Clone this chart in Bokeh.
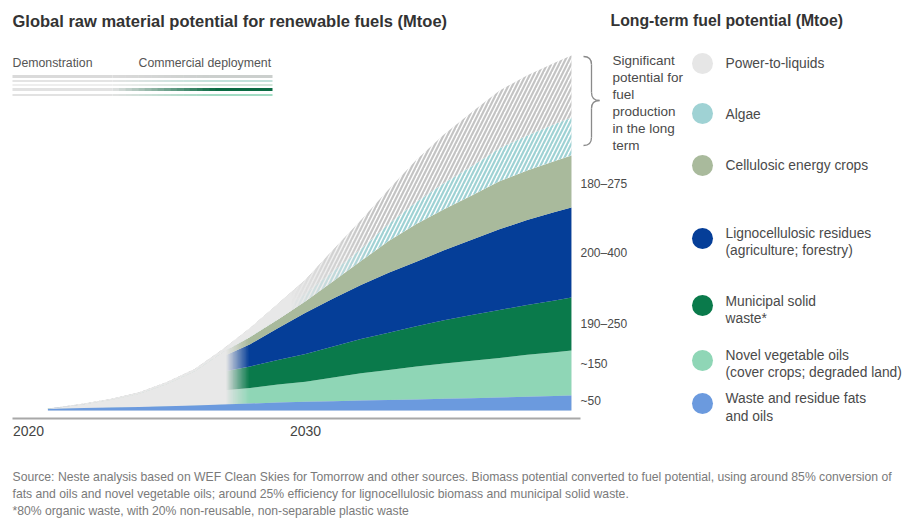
import numpy as np
from bokeh.plotting import figure
from bokeh.models import Range1d, FixedTicker, Label
from bokeh.layouts import column
from bokeh.embed import file_html
from bokeh.resources import INLINE

# ---------------- data (Mtoe) ----------------
years = [2020.7, 2021, 2022, 2023, 2024, 2025, 2026, 2027, 2028, 2029, 2030,
         2031, 2032, 2033, 2034, 2035, 2036, 2037, 2038, 2039, 2039.6]
fats_oils = [5, 6, 8, 10, 12, 14, 17, 20, 23, 27, 29, 31, 33, 35, 37, 39, 41, 43, 46, 48, 50]
novel_veg_oils = [1, 1, 4, 7, 11, 17, 30, 47, 52, 60, 67, 79, 91, 100, 110, 118, 125, 132, 140, 146, 150]
municipal_waste = [1, 1, 4, 8, 14, 25, 38, 62, 72, 81, 92, 103, 114, 124, 134, 144, 152, 160, 166, 173, 177]
ligno_residues = [0, 1, 4, 8, 14, 24, 36, 50, 74, 106, 138, 160, 180, 200, 215, 233, 251, 269, 283, 295, 300]
energy_crops = [0, 0, 1, 3, 5, 8, 10, 14, 24, 29, 38, 58, 80, 106, 126, 137, 148, 160, 165, 170, 173]
algae = [0, 0, 1, 1, 2, 3, 3, 4, 12, 20, 27, 33, 40, 57, 73, 87, 97, 110, 117, 123, 127]
power_to_liquids = [0, 1, 1, 2, 3, 4, 4, 6, 18, 32, 45, 72, 96, 115, 140, 162, 180, 192, 200, 204, 206]

tick_years = [2020, 2030]
commercial_start = 2027.15   # colored layers fade in
commercial_full = 2027.95
hatch_start = 2029.5         # long-term potential fades in
hatch_full = 2032.5

range_labels = ["~50", "~150", "190\u2013250", "200\u2013400", "180\u2013275"]
legend_names = ["Power-to-liquids", "Algae", "Cellulosic energy crops",
                "Lignocellulosic residues\n(agriculture; forestry)",
                "Municipal solid\nwaste*",
                "Novel vegetable oils\n(cover crops; degraded land)",
                "Waste and residue fats\nand oils"]
footnotes = ["Source: Neste analysis based on WEF Clean Skies for Tomorrow and other sources. Biomass potential converted to fuel potential, using around 85% conversion of",
             "fats and oils and novel vegetable oils; around 25% efficiency for lignocellulosic biomass and municipal solid waste.",
             "*80% organic waste, with 20% non-reusable, non-separable plastic waste"]

# ---------------- styles ----------------
C_GRAY = "#e8e8e8"
C_FATS = "#6b9ade"
C_VEG = "#8fd6b6"
C_MSW = "#0a7a4b"
C_LIGNO = "#053e98"
C_CROPS = "#a9ba9c"
C_ALGAE = "#9fd2d4"
C_PTL = "#c4c4c4"
legend_colors = ["#e6e6e6", C_ALGAE, C_CROPS, C_LIGNO, C_MSW, C_VEG, C_FATS]
FONT = "Liberation Sans"
TXT = "#4a4a4a"

# image-pixel -> data helpers for layout
PX_PER_YEAR = 27.7
MT_PER_PX = 10.0 / 3.0
def X(px):
    return 2020 + (px - 28) / PX_PER_YEAR
def Y(py):
    return (410 - py) * MT_PER_PX

W = 905
H1 = 451
FRAME_BOTTOM = 421
p = figure(width=W, height=H1, output_backend="svg", toolbar_location=None,
           x_range=Range1d(X(0), X(W)), y_range=Range1d(Y(FRAME_BOTTOM), Y(0)),
           y_axis_location=None, min_border_left=0, min_border_right=0,
           min_border_top=0, min_border_bottom=H1 - FRAME_BOTTOM)
p.outline_line_color = None
p.grid.visible = False
p.background_fill_color = "white"

ax = p.xaxis[0]
ax.ticker = FixedTicker(ticks=tick_years)
ax.axis_line_color = None
ax.major_tick_line_color = None
ax.minor_tick_line_color = None
ax.major_tick_out = 0
ax.major_tick_in = 0
ax.major_label_standoff = 4
ax.major_label_text_font = FONT
ax.major_label_text_font_size = "14px"
ax.major_label_text_color = "#444444"

yrs = np.array(years, dtype=float)
stack = np.cumsum(np.array([fats_oils, novel_veg_oils, municipal_waste, ligno_residues,
                            energy_crops, algae, power_to_liquids], dtype=float), axis=0)
c_fats, c_veg, c_msw, c_lig, c_crop, c_alg, c_ptl = stack

# envelope (demonstration phase) and layers
p.varea(x=yrs, y1=0, y2=c_ptl, fill_color=C_GRAY)
p.varea(x=yrs, y1=c_fats, y2=c_veg, fill_color=C_VEG)
p.varea(x=yrs, y1=c_veg, y2=c_msw, fill_color=C_MSW)
p.varea(x=yrs, y1=c_msw, y2=c_lig, fill_color=C_LIGNO)
p.varea(x=yrs, y1=c_lig, y2=c_crop, fill_color=C_CROPS)
p.varea(x=yrs, y1=c_crop, y2=c_alg, fill_color="white", hatch_pattern="/",
        hatch_color=C_ALGAE, hatch_scale=8, hatch_weight=2.2)
p.varea(x=yrs, y1=c_alg, y2=c_ptl, fill_color="white", hatch_pattern="/",
        hatch_color=C_PTL, hatch_scale=8, hatch_weight=2.2)

def fade_mask(x_from, x_start, x_full, lower, upper, n=18):
    """Nested gray overlays: opaque (demonstration) left of x_start,
    linearly fading to nothing at x_full."""
    ends = np.linspace(x_full, x_start, n)   # rightmost first
    for k, e in enumerate(ends, start=1):
        a = 1.0 / (n - k + 1)
        left = yrs[0] if k == n else x_from
        sel = (yrs > left) & (yrs < e)
        xs = np.sort(np.concatenate([[left, e], yrs[sel]]))
        p.varea(x=xs, y1=lower(xs), y2=upper(xs), fill_color=C_GRAY, fill_alpha=a)

# demonstration gray before commercial deployment, then fade-in of the colours
fade_mask(2027.0, commercial_start, commercial_full,
          lambda xs: np.interp(xs, yrs, c_fats) - 1, lambda xs: np.interp(xs, yrs, c_crop))
fade_mask(2029.0, hatch_start, hatch_full,
          lambda xs: np.interp(xs, yrs, c_crop), lambda xs: np.interp(xs, yrs, c_ptl), n=24)

# fats on top of the demonstration gray (visible from the start)
p.varea(x=yrs, y1=0, y2=c_fats, fill_color=C_FATS)

# baseline
p.segment(x0=[X(12)], y0=[Y(418)], x1=[X(580)], y1=[Y(418)], line_color="#a8a8a8", line_width=2)

# ---------------- texts ----------------
def label(fig, xx, yy, text, size="14px", color=TXT, bold=False, font=FONT):
    fig.add_layout(Label(x=xx, y=yy, text=text, text_font=font,
                         text_font_size=size, text_color=color,
                         text_font_style="bold" if bold else "normal",
                         text_align="left", text_baseline="middle"))

def lab(px, py, text, **kw):
    label(p, X(px), Y(py), text, **kw)

lab(12, 20, "Global raw material potential for renewable fuels (Mtoe)", size="16.5px", color="#333333", bold=True)
lab(610, 20, "Long-term fuel potential (Mtoe)", size="15.8px", color="#333333", bold=True)
lab(12, 62, "Demonstration", size="12.3px", color="#555555")
lab(138, 62, "Commercial deployment", size="12.3px", color="#555555")

# demonstration -> commercial deployment key
def mix(c1, c2, t):
    a = [int(c1[i:i + 2], 16) for i in (1, 3, 5)]
    b = [int(c2[i:i + 2], 16) for i in (1, 3, 5)]
    return "#%02x%02x%02x" % tuple(int(round(a[k] + (b[k] - a[k]) * t)) for k in range(3))

stripes = [(76, 3, "#dadada", "#cbcfcd"), (80.5, 2, "#e4e4e4", "#c3e2dc"),
           (84.5, 2, "#eeeeee", "#d3e6da"), (89, 3, "#e2e2e2", "#0b6b43"),
           (94.5, 2, "#e2e2e2", "#a2dcc4")]
g0, g1, nseg = 112, 215, 16
for py, lw, cl, cr in stripes:
    xs0 = [X(12)]
    xs1 = [X(g0)]
    cols = [cl]
    step = (g1 - g0) / nseg
    for i in range(nseg):
        xs0.append(X(g0 + i * step))
        xs1.append(X(g0 + (i + 1) * step + 0.5))
        cols.append(mix(cl, cr, (i + 0.5) / nseg))
    xs0.append(X(g1))
    xs1.append(X(272))
    cols.append(cr)
    p.segment(x0=xs0, y0=[Y(py)] * len(xs0), x1=xs1, y1=[Y(py)] * len(xs0),
              line_color=cols, line_width=lw)

# bracket
p.quadratic(x0=[X(583), X(591), X(599), X(591)], y0=[Y(56), Y(92), Y(100), Y(137)],
            x1=[X(591), X(599), X(591), X(583)], y1=[Y(64), Y(100), Y(108), Y(145)],
            cx=[X(591), X(591), X(591), X(591)], cy=[Y(56), Y(100), Y(100), Y(145)],
            line_color="#8a8a8a", line_width=1.3)
p.segment(x0=[X(591), X(591)], y0=[Y(64), Y(108)], x1=[X(591), X(591)], y1=[Y(92), Y(137)],
          line_color="#8a8a8a", line_width=1.3)

for i, t in enumerate(["Significant", "potential for", "fuel", "production", "in the long", "term"]):
    lab(612, 60 + 17 * i, t, size="13.5px")

for t, py in zip(range_labels, [400, 363, 323, 252, 183]):
    lab(580, py, t, size="12px")

# legend
circle_y = [63, 113, 165, 238, 305, 360, 403]
p.scatter(x=[X(702)] * 7, y=[Y(v) for v in circle_y], size=21, marker="circle",
          fill_color=legend_colors, line_color=None)
text_y = [[63], [114], [165], [233, 250], [301, 318], [355, 372], [398, 416]]
for name, ys in zip(legend_names, text_y):
    for line, py in zip(name.split("\n"), ys):
        lab(725, py, line, size="13.8px")

# ---------------- footnotes (second figure) ----------------
H2 = 518 - H1
p2 = figure(width=W, height=H2, output_backend="svg", toolbar_location=None,
            x_range=Range1d(0, W), y_range=Range1d(H2, 0),
            x_axis_location=None, y_axis_location=None,
            min_border_left=0, min_border_right=0, min_border_top=0, min_border_bottom=0)
p2.outline_line_color = None
p2.grid.visible = False
for t, py in zip(footnotes, [476, 493, 510]):
    label(p2, 12, py - H1, t, size="12.2px", color="#7a7a7a")

layout = column(p, p2, spacing=0)
open("out.html", "w").write(file_html(layout, INLINE))
